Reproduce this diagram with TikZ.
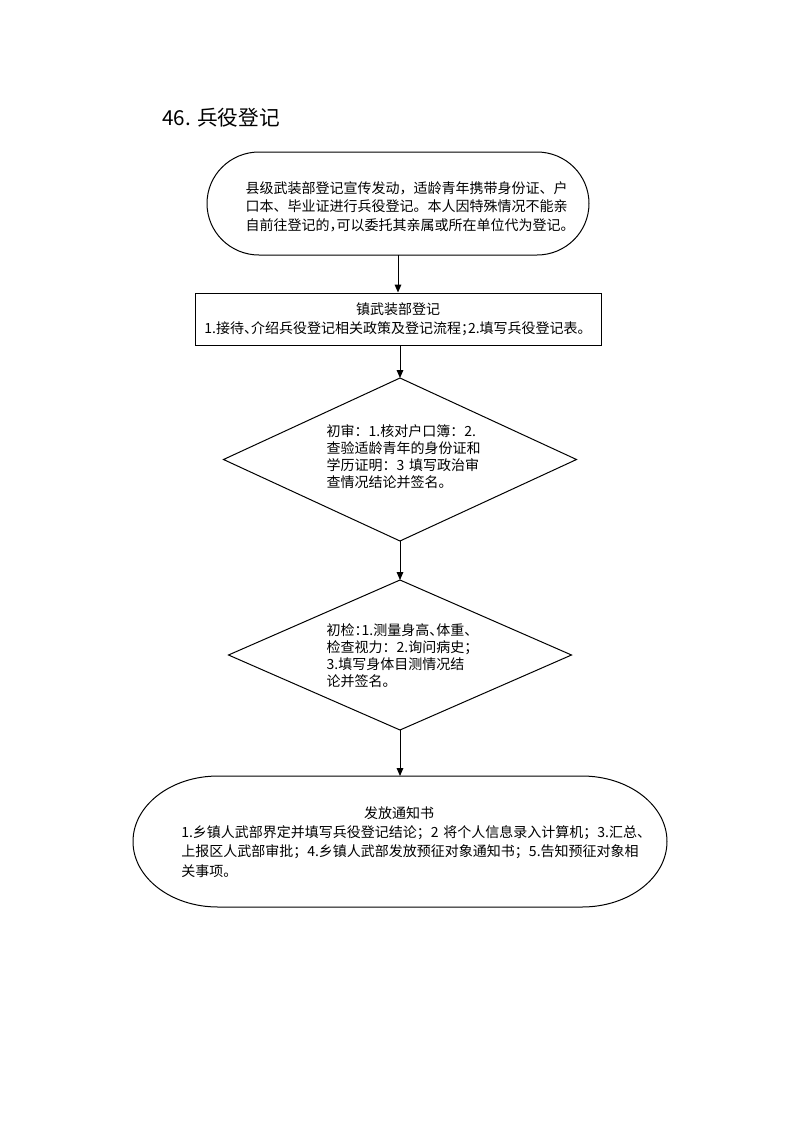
\documentclass[tikz,border=0pt]{standalone}
\usepackage{fontspec}
\setmainfont{Noto Sans CJK SC}
\usetikzlibrary{arrows.meta}
\newlength{\pxu}\setlength{\pxu}{0.75pt}
\newcommand{\halfp}[1]{\makebox[0.5em][l]{#1}}
\tikzset{
  body/.style={font=\fontsize{10.5}{13.9}\selectfont, inner sep=0pt},
  dtext/.style={font=\fontsize{10.5}{12.75}\selectfont, inner sep=0pt, align=left, text width=11em},
  holder/.style={inner sep=0pt, outer sep=0pt},
  outline/.style={draw, line width=0.75pt},
  link/.style={draw, line width=0.75pt, -{Triangle[length=6pt,width=5pt]}},
}
\begin{document}
\begin{tikzpicture}[x=0.75pt,y=-0.75pt]
\useasboundingbox (0,0) rectangle (793,1122);

% title
\node[anchor=west, inner sep=0pt, font=\fontsize{15.5}{18}\selectfont] (title) at (162,118) {46. 兵役登记};

% top terminator
\node[holder, minimum width=382\pxu, minimum height=103\pxu] (s1) at (398,203.5) {};
\draw[outline] ([xshift=39pt]s1.north west) -- ([xshift=-39pt]s1.north east)
  arc[start angle=90, end angle=-90, x radius=39pt, y radius=38.625pt]
  -- ([xshift=39pt]s1.south west)
  arc[start angle=270, end angle=90, x radius=39pt, y radius=38.625pt] -- cycle;
\node[body, align=left, text width=23.4em] (t1) at (401.5,206.5)
  {县级武装部登记宣传发动，适龄青年携带身份证、户\\
   口本、毕业证进行兵役登记。本人因特殊情况不能亲\\
   自前往登记的\halfp{，}可以委托其亲属或所在单位代为登记。};

% rectangle
\node[outline, body, align=center, minimum width=406\pxu, minimum height=52\pxu] (r) at (398,319)
  {镇武装部登记\\
   1.接待\halfp{、}介绍兵役登记相关政策及登记流程\halfp{；}2.填写兵役登记表。};

% diamond 1
\node[holder, minimum width=353\pxu, minimum height=163\pxu] (d1) at (400,459.5) {};
\draw[outline] (d1.north) -- (d1.east) -- (d1.south) -- (d1.west) -- cycle;
\node[dtext] (t3) at (400,457)
  {初审：1.核对户口簿：2.\\
   查验适龄青年的身份证和\\
   学历证明：3~填写政治审\\
   查情况结论并签名。};

% diamond 2
\node[holder, minimum width=343\pxu, minimum height=150\pxu] (d2) at (400,655) {};
\draw[outline] (d2.north) -- (d2.east) -- (d2.south) -- (d2.west) -- cycle;
\node[dtext] (t4) at (400,656)
  {初检\halfp{：}1.测量身高\halfp{、}体重、\\
   检查视力：2.询问病史；\\
   3.填写身体目测情况结\\
   论并签名。};

% bottom terminator
\node[holder, minimum width=534\pxu, minimum height=131\pxu] (s2) at (400,841.5) {};
\draw[outline] ([xshift=63.75pt]s2.north west) -- ([xshift=-63.75pt]s2.north east)
  arc[start angle=90, end angle=-90, x radius=63.75pt, y radius=49.125pt]
  -- ([xshift=63.75pt]s2.south west)
  arc[start angle=270, end angle=90, x radius=63.75pt, y radius=49.125pt] -- cycle;
\node[font=\fontsize{10.5}{14.4}\selectfont, inner sep=0pt, align=left, text width=34em] (t5) at (408,842)
  {\makebox[\linewidth]{\hspace*{-13.5pt}发放通知书}\\
   1.乡镇人武部界定并填写兵役登记结论；2~将个人信息录入计算机；3.汇总、\\
   上报区人武部审批；4.乡镇人武部发放预征对象通知书；5.告知预征对象相\\
   关事项。};

% connectors
\draw[link] (s1.south) -- (r.north);
\draw[link] (r.south -| d1.north) -- (d1.north);
\draw[link] (d1.south) -- (d2.north);
\draw[link] (d2.south) -- (s2.north);
\end{tikzpicture}
\end{document}
